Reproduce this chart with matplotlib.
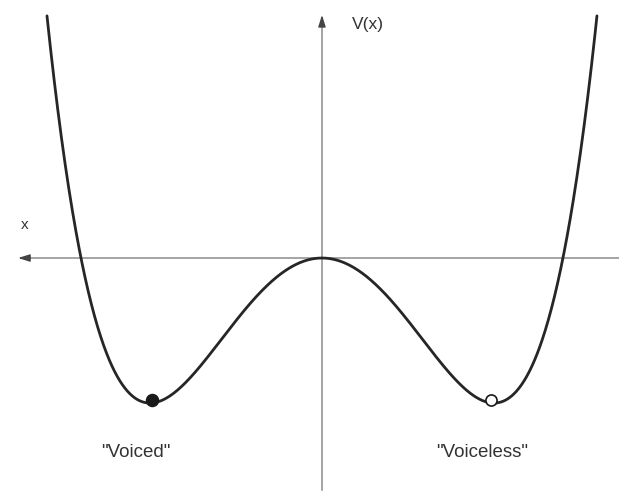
import numpy as np
from matplotlib import pyplot as plt

plt.rcParams['font.family'] = ['Liberation Sans', 'DejaVu Sans']

# double-well potential V(u) = a*u^2 + b*u^4 + c*u^6 (coefficients)
coef_u2 = -1.96
coef_u4 = 0.92
coef_u6 = 0.04
v_top = 1.69   # curve is cut off a little below the top edge

# states sitting in the two wells
state_x = [-0.99, 0.98]
state_names = ['"Voiced"', '"Voiceless"']
state_filled = [True, False]

u = np.linspace(-1.8, 1.8, 1200)
v = coef_u2 * u**2 + coef_u4 * u**4 + coef_u6 * u**6
v = np.where(v <= v_top, v, np.nan)

fig = plt.figure(figsize=(6.19, 4.95), dpi=100)
ax = fig.add_axes([0, 0, 1, 1])
ax.set_xlim(-1.872, 1.727)
ax.set_ylim(-1.634, 1.779)
ax.axis('off')

axis_col = '#8c8c8c'
head = dict(arrowstyle='-|>,head_length=0.7,head_width=0.22',
            color='#444444', lw=1.0, shrinkA=0, shrinkB=0)
# horizontal axis, arrow pointing left
ax.plot([-1.74, 1.727], [0, 0], color=axis_col, lw=1.1)
ax.annotate('', xy=(-1.767, 0), xytext=(-1.70, 0), arrowprops=head)
# vertical axis, arrow pointing up
ax.plot([0, 0], [-1.60, 1.64], color=axis_col, lw=1.1)
ax.annotate('', xy=(0, 1.676), xytext=(0, 1.60), arrowprops=head)

ax.plot(u, v, color='#262626', lw=2.0, solid_capstyle='round')

for sx, filled in zip(state_x, state_filled):
    sv = coef_u2 * sx**2 + coef_u4 * sx**4 + coef_u6 * sx**6
    ax.plot(sx, sv + 0.02, 'o', ms=8.5 if filled else 8, mec='#1a1a1a', mew=1.2,
            mfc='#1a1a1a' if filled else 'white', zorder=5)

ax.text(-1.727, 0.228, 'x', fontsize=11, color='#333333', ha='center', va='center')
ax.text(0.174, 1.607, 'V(x)', fontsize=12.5, color='#333333', ha='left', va='center')
ax.text(-1.081, -1.338, state_names[0], fontsize=13.5, color='#333333', ha='center', va='center')
ax.text(0.930, -1.338, state_names[1], fontsize=13.5, color='#333333', ha='center', va='center')

plt.savefig('out.png', dpi=100)
